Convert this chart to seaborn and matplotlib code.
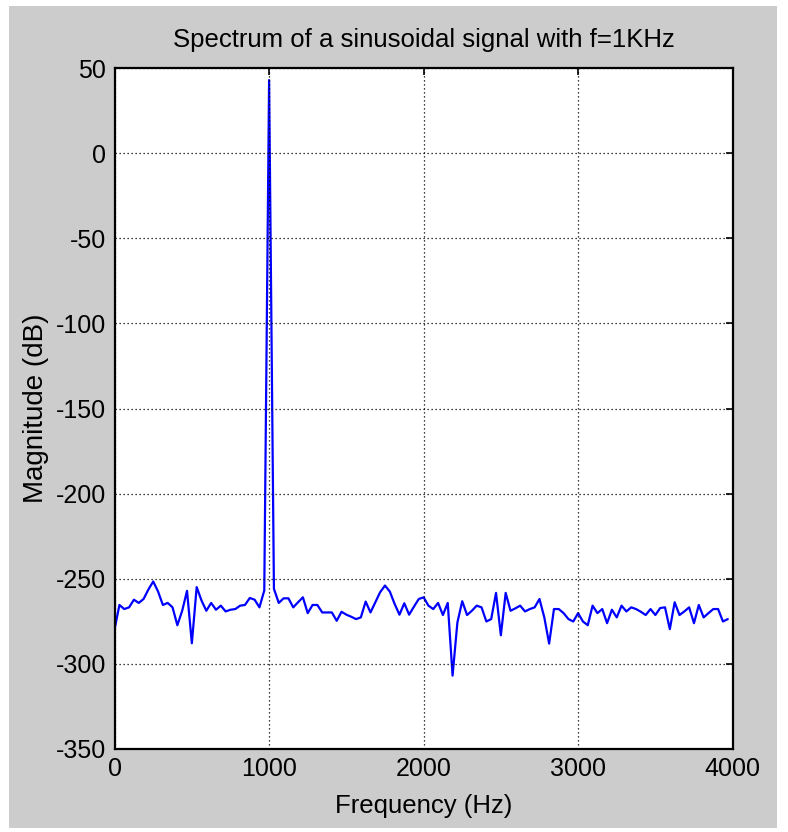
import numpy as np
import pandas as pd
import matplotlib
matplotlib.use("Agg")
import matplotlib.pyplot as plt
import seaborn as sns

# FFT bins: fs = 8 kHz, N = 256, first half of the spectrum
sample_rate_hz = 8000
n_fft = 256
n_bins = n_fft // 2

# Magnitude of each bin in dB (tone at 1 kHz, numerical noise floor elsewhere)
magnitude_db = [
    -279.6, -265.4, -267.8, -266.8, -262.3, -264.2, -261.9, -256.3,
    -251.6, -257.5, -265.4, -264.2, -266.8, -277.3, -268.8, -257.1,
    -287.9, -254.9, -262.8, -268.8, -264.2, -268.2, -265.8, -269.2,
    -268.2, -267.8, -265.8, -265.4, -261.3, -262.3, -266.8, -256.9,
    42.9, -255.9, -264.2, -261.5, -261.5, -266.8, -263.8, -260.9,
    -270.2, -265.4, -265.4, -269.8, -269.8, -269.8, -274.7, -269.4,
    -271.1, -272.3, -273.7, -272.7, -263.4, -269.8, -263.8, -257.9,
    -254.0, -257.5, -264.8, -271.1, -264.4, -271.1, -266.4, -261.9,
    -260.9, -265.8, -267.8, -264.2, -271.3, -264.2, -306.9, -275.7,
    -263.2, -271.3, -268.8, -265.8, -266.8, -275.1, -273.7, -258.3,
    -283.2, -258.3, -268.8, -267.4, -265.8, -269.2, -267.8, -266.8,
    -261.9, -272.7, -288.1, -267.8, -267.8, -270.2, -273.7, -275.1,
    -270.2, -275.1, -277.3, -265.8, -270.2, -267.8, -276.1, -268.2,
    -272.7, -265.8, -269.2, -266.8, -267.8, -269.4, -271.3, -267.8,
    -271.3, -267.2, -266.8, -279.6, -263.8, -271.3, -269.2, -266.8,
    -276.1, -265.4, -272.7, -270.2, -267.8, -267.8, -275.1, -273.7,
]

x_ticks = [0, 1000, 2000, 3000, 4000]
y_ticks = [-350, -300, -250, -200, -150, -100, -50, 0, 50]

title_text = "Spectrum of a sinusoidal signal with f=1KHz"
x_label = "Frequency (Hz)"
y_label = "Magnitude (dB)"

freq_hz = np.arange(n_bins) * sample_rate_hz / n_fft
df = pd.DataFrame({"freq": freq_hz, "mag": magnitude_db[:n_bins]})

sns.set_style("white")
plt.rcParams["font.family"] = ["Liberation Sans", "DejaVu Sans"]

W, H, DPI = 788, 832, 100
fig = plt.figure(figsize=(W / DPI, H / DPI), dpi=DPI, facecolor="white")

# grey window panel behind the axes
panel = plt.Rectangle((9 / W, 1 - 828 / H), (777 - 9) / W, (828 - 6) / H,
                      transform=fig.transFigure, facecolor="#cccccc",
                      edgecolor="none", zorder=-10)
fig.patches.append(panel)

ax_l, ax_r, ax_t, ax_b = 114.6, 732.6, 68, 749
ax = fig.add_axes([ax_l / W, 1 - ax_b / H, (ax_r - ax_l) / W, (ax_b - ax_t) / H])
ax.set_zorder(1)
ax.set_facecolor("white")

sns.lineplot(data=df, x="freq", y="mag", color="#0000ff", linewidth=1.6, ax=ax)

ax.set_xlim(0, 4000)
ax.set_ylim(-350, 50)
ax.set_xticks(x_ticks)
ax.set_yticks(y_ticks)
ax.set_xticklabels([str(v) for v in x_ticks])
ax.set_yticklabels([str(v) for v in y_ticks])

ax.grid(True, color="black", linestyle=(0, (1, 2.2)), linewidth=0.9)
ax.set_axisbelow(False)
for s in ax.spines.values():
    s.set_visible(True)
    s.set_color("black")
    s.set_linewidth(1.6)

ax.tick_params(axis="both", which="both", direction="in", length=5, width=1.2,
               top=True, right=True, labelsize=18, colors="black", pad=6)

ax.set_title(title_text, fontsize=18.5, pad=15, color="black")
ax.set_xlabel(x_label, fontsize=18.5, labelpad=9, color="black")
ax.set_ylabel(y_label, fontsize=20, labelpad=5, color="black")

fig.savefig("out.png", dpi=DPI, facecolor="white")
